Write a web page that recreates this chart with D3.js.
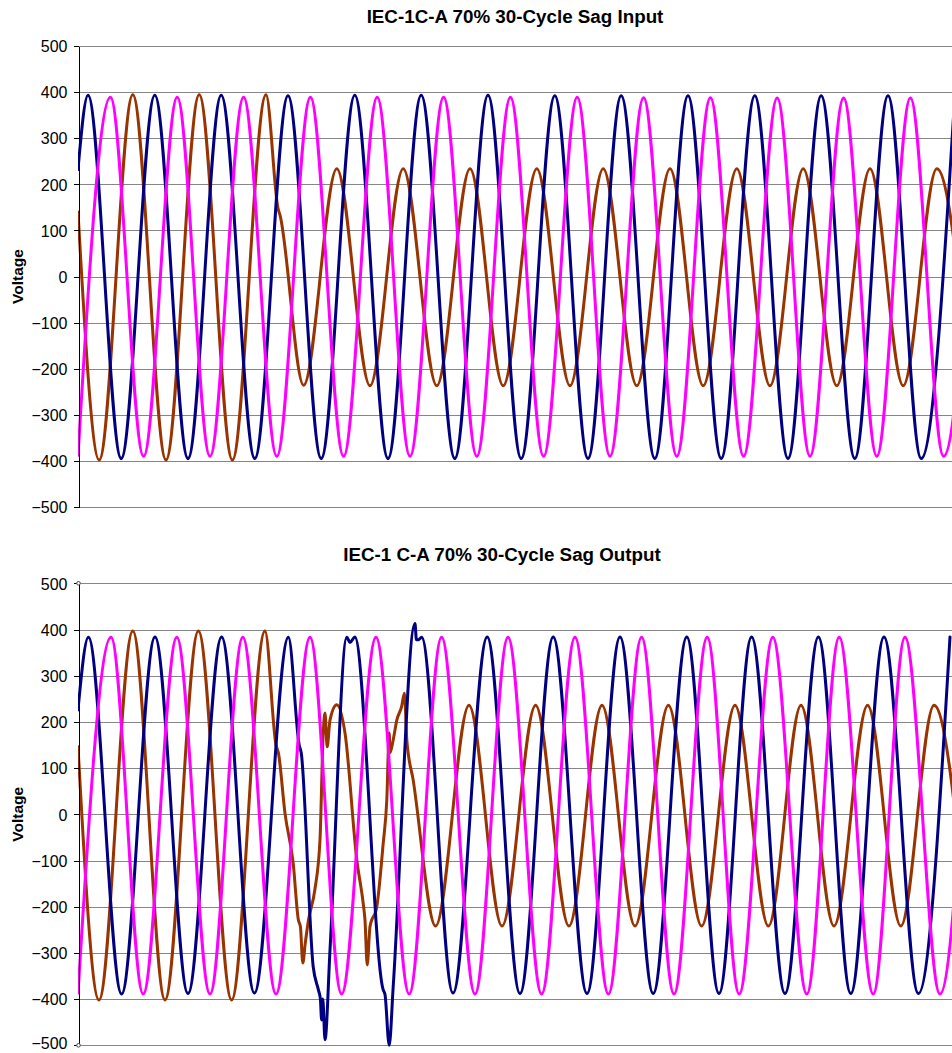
<!DOCTYPE html>
<html>
<head>
<meta charset="utf-8">
<script src="https://cdn.jsdelivr.net/npm/d3@7"></script>
<style>
  body { margin: 0; background: #fff; }
  svg { display: block; font-family: Arial, "Liberation Sans", sans-serif; }
  .grid line { stroke: #868686; stroke-width: 1; shape-rendering: crispEdges; }
  .axis path, .axis line { stroke: #000; shape-rendering: crispEdges; }
  .axis text { font-size: 16px; fill: #000; }
  .title { font-size: 18.8px; font-weight: bold; }
  .ylabel { font-size: 15.5px; font-weight: bold; }
  .wave { fill: none; stroke-width: 3; stroke-linejoin: round; stroke-linecap: round; }
</style>
</head>
<body>
<svg id="chart" width="952" height="1053"></svg>
<script>
// time (ms) / voltage pairs
var yTicks = [-500, -400, -300, -200, -100, 0, 100, 200, 300, 400, 500];

// --- input
var navyIn = [[0,232],[2.5,393],[10.8,-395],[19.2,393],[27.5,-395],[35.8,393],[44.2,-395],[52.5,392],
  [60.8,-395],[69.2,393],[77.5,-395],[85.8,393],[94.2,-395],[102.5,393],[110.8,-395],[119.2,392],
  [127.5,-395],[135.8,392],[144.2,-395],[152.5,392],[160.8,-395],[169.2,392],[177.5,-395],[185.8,392],
  [194.2,-395],[202.5,392],[210.8,-395],[219.2,392]];
var magentaIn = [[0,-388],[8.1,389],[16.4,-390],[24.8,389],[33.0,-390],[41.4,389],[49.7,-390],[58.1,389],
  [66.4,-390],[74.8,389],[83.0,-390],[91.4,389],[99.7,-390],[108.1,389],[116.4,-390],[124.8,389],
  [133.0,-390],[141.4,388],[149.7,-390],[158.1,388],[166.4,-390],[174.8,387],[183.0,-390],[191.4,387],
  [199.7,-390],[208.1,387],[216.4,-390],[224.8,387]];
var brownIn = [[0,140],[5.3,-398],[13.7,394],[22.0,-398],[30.3,394],[38.6,-398],[47.0,394],
  [50.0,148],[50.5,133],[56.4,-236],[64.7,234],[73.0,-237],[81.3,234],[89.7,-237],[98.0,234],
  [106.3,-237],[114.7,234],[123.0,-237],[131.3,234],[139.7,-237],[148.0,234],[156.3,-237],[164.7,234],
  [173.0,-237],[181.3,234],[189.7,-237],[198.0,234],[206.3,-237],[214.7,234],[223.0,-237]];

// --- output
var navyOut = [[0,226],[2.6,383],[10.9,-389],[19.25,384],[27.5,-388],[35.9,384],[44.1,-387],[52.6,383],
  [55.3,150],[55.8,133],[58.8,-330],[60.1,-380],[60.6,-400],[60.9,-445],[61.2,-400],[61.75,-488],
  [63.0,-294],[67.2,383],[68.0,372],[69.2,384],[76.3,-380],[76.75,-390],[77.8,-500],[78.8,-373],
  [84.25,413],[84.6,378],[85.1,378],[85.9,383],[93.75,-387],[102.3,384],[110.5,-388],[118.8,384],
  [127.25,-388],[135.5,384],[143.8,-388],[152.2,384],[160.25,-388],[168.4,384],[176.75,-388],[185.1,384],
  [193.2,-388],[201.5,384],[210.1,-388],[218.0,384]];
var magentaOut = [[0,-387],[8.25,383],[16.3,-389],[24.7,383],[33.0,-389],[41.2,383],[49.5,-389],[58.0,383],
  [65.9,-389],[74.5,383],[82.8,-389],[90.9,383],[99.25,-389],[107.5,383],[115.9,-389],[124.25,383],
  [132.6,-389],[140.9,383],[149.0,-389],[157.3,383],[165.3,-389],[173.7,383],[182.2,-389],[190.3,383],
  [198.8,-389],[206.75,383],[215.5,-389],[223.25,383]];
var brownOut = [[0,146],[5.25,-402],[13.7,397],[21.75,-402],[30.1,397],[38.4,-402],[46.75,397],
  [49.5,150],[50.1,133],[51.75,2],[53.8,-106],[55.1,-229],[55.6,-243],[56.2,-322],[56.8,-280],
  [57.6,-230],[59.2,-164],[60.5,-55],[61.3,175],[61.75,219],[62.3,146],[63.0,204],[64.7,237],
  [66.75,176],[69.7,-99],[71.3,-193],[71.75,-229],[72.3,-326],[73.0,-243],[74.7,-200],[76.3,-63],
  [77.2,31],[77.8,176],[78.0,133],[78.8,161],[79.7,204],[80.9,233],[81.6,262],[82.2,161],[83.8,74],
  [89.4,-242],[97.75,236],[106.0,-242],[114.4,236],[122.75,-242],[131.0,236],[139.25,-242],[147.6,236],
  [155.9,-242],[164.25,236],[172.6,-242],[180.75,236],[189.0,-242],[197.4,236],[205.7,-242],[214.0,236],
  [222.25,-242]];

var COLORS = {navy: '#000080', magenta: '#ff00ff', brown: '#993300'};
var WIDTH = 952;
var HEIGHT = 1053;
var PLOT_LEFT = 78;

var svg = d3.select('#chart');

// 4 px per millisecond, runs off the right edge like the original
var x = d3.scaleLinear().domain([0, 220]).range([PLOT_LEFT, PLOT_LEFT + 880]);

function drawPanel(opts) {
    var y = d3.scaleLinear().domain([-500, 500]).range([opts.bottom, opts.top]);
    var g = svg.append('g');

    // horizontal grid
    g.append('g')
        .attr('class', 'grid')
        .selectAll('line')
        .data(yTicks)
        .enter()
        .append('line')
        .attr('x1', PLOT_LEFT)
        .attr('x2', WIDTH)
        .attr('y1', (d) => Math.round(y(d)) + 0.5)
        .attr('y2', (d) => Math.round(y(d)) + 0.5);

    var clipId = 'clip-' + opts.id;
    g.append('clipPath')
        .attr('id', clipId)
        .append('rect')
        .attr('x', PLOT_LEFT)
        .attr('y', opts.top - 12)
        .attr('width', WIDTH - PLOT_LEFT)
        .attr('height', opts.bottom - opts.top + 24);

    var line = d3.line()
        .x((d) => x(d[0]))
        .y((d) => y(d[1]))
        .curve(d3.curveMonotoneX);

    g.append('g')
        .attr('clip-path', `url(#${clipId})`)
        .selectAll('path')
        .data(opts.series)
        .enter()
        .append('path')
        .attr('class', 'wave')
        .attr('stroke', (d) => d.color)
        .attr('d', (d) => line(d.values));

    // y axis
    g.append('g')
        .attr('class', 'axis')
        .attr('transform', `translate(${PLOT_LEFT + 0.5},0)`)
        .call(d3.axisLeft(y).tickValues(yTicks).tickSize(5).tickSizeOuter(0).tickPadding(6))
        // lowest label sits right at the page edge, lift it a hair
        .call((a) => a.selectAll('text')
            .attr('dy', (d) => (y(d) > HEIGHT - 12 ? '0.22em' : '0.36em')));

    if (opts.endMarks) {
        g.selectAll('.endmark')
            .data([500, -500])
            .enter()
            .append('circle')
            .attr('cx', PLOT_LEFT + 0.5)
            .attr('cy', (d) => y(d))
            .attr('r', 1.8)
            .attr('fill', '#fff')
            .attr('stroke', '#444')
            .attr('stroke-width', 1);
    }

    g.append('text')
        .attr('class', 'title')
        .attr('x', opts.titleX)
        .attr('y', opts.titleY)
        .attr('text-anchor', 'middle')
        .text(opts.title);

    g.append('text')
        .attr('class', 'ylabel')
        .attr('transform', `translate(23,${y(0)})rotate(-90)`)
        .attr('text-anchor', 'middle')
        .text('Voltage');
}

drawPanel({
    id: 'in', top: 46, bottom: 507,
    title: 'IEC-1C-A 70% 30-Cycle Sag Input', titleX: 515, titleY: 23,
    series: [
        {color: COLORS.brown, values: brownIn},
        {color: COLORS.navy, values: navyIn},
        {color: COLORS.magenta, values: magentaIn}
    ]
});

drawPanel({
    id: 'out', top: 583.3, bottom: 1045.3, endMarks: true,
    title: 'IEC-1 C-A 70% 30-Cycle Sag Output', titleX: 502, titleY: 561,
    series: [
        {color: COLORS.brown, values: brownOut},
        {color: COLORS.navy, values: navyOut},
        {color: COLORS.magenta, values: magentaOut}
    ]
});
</script>
</body>
</html>
